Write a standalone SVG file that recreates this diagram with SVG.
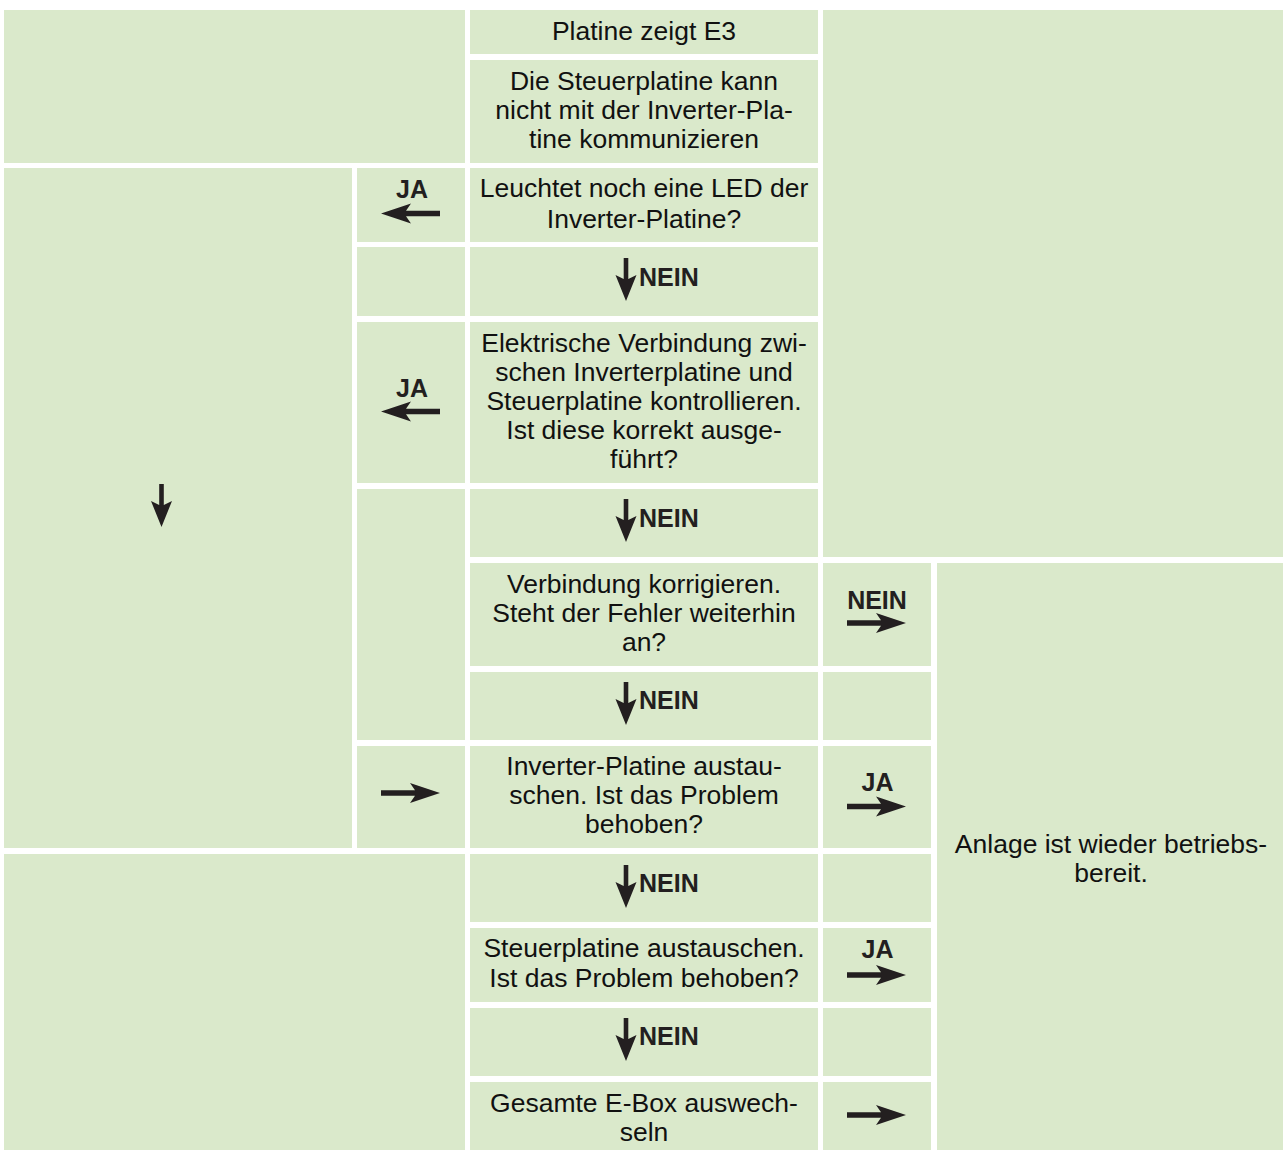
<svg xmlns="http://www.w3.org/2000/svg" xmlns:xlink="http://www.w3.org/1999/xlink" width="1283" height="1150" viewBox="0 0 1283 1150">
<style>
.c{fill:#DAE9CB}
.t{font-family:"Liberation Sans",Arial,sans-serif;font-size:26.5px;fill:#111;text-anchor:middle}
.l{font-family:"Liberation Sans",Arial,sans-serif;font-size:25px;font-weight:bold;fill:#231F20}
.m{text-anchor:middle}
.a{fill:#231F20}
</style>
<defs>
<path id="ad" d="M-2.3,0 H2.3 V21 L10.5,17 L0,43 L-10.5,17 L-2.3,21 Z"/>
<path id="ar" d="M0,-2.7 H34 L29,-10 L59,0 L29,10 L34,2.7 H0 Z"/>
<path id="al" d="M0,-2.7 H-34 L-29,-10 L-59,0 L-29,10 L-34,2.7 H0 Z"/>
</defs>
<rect width="1283" height="1150" fill="#fff"/>
<g id="n-topleft"><rect class="c" x="4" y="10" width="461" height="153"/></g>
<g id="n-start"><rect class="c" x="470" y="10" width="348" height="44"/><text class="t" x="644" y="40">Platine zeigt E3</text></g>
<g id="n-cause"><rect class="c" x="470" y="60" width="348" height="103"/><text class="t" x="644" y="90">Die Steuerplatine kann</text><text class="t" x="644" y="119">nicht mit der Inverter-Pla-</text><text class="t" x="644" y="148">tine kommunizieren</text></g>
<g id="n-topright"><rect class="c" x="823" y="10" width="460" height="547"/></g>
<g id="n-leftcol"><rect class="c" x="4" y="168" width="348" height="680"/></g>
<g id="n-b1"><rect class="c" x="357" y="168" width="108" height="74"/></g>
<g id="n-led"><rect class="c" x="470" y="168" width="348" height="74"/><text class="t" x="644" y="197">Leuchtet noch eine LED der</text><text class="t" x="644" y="228">Inverter-Platine?</text></g>
<g id="n-b2"><rect class="c" x="357" y="247" width="108" height="69"/></g>
<g id="n-c4"><rect class="c" x="470" y="247" width="348" height="69"/></g>
<g id="n-b3"><rect class="c" x="357" y="322" width="108" height="161"/></g>
<g id="n-elec"><rect class="c" x="470" y="322" width="348" height="161"/><text class="t" x="644" y="352">Elektrische Verbindung zwi-</text><text class="t" x="644" y="381">schen Inverterplatine und</text><text class="t" x="644" y="410">Steuerplatine kontrollieren.</text><text class="t" x="644" y="439">Ist diese korrekt ausge-</text><text class="t" x="644" y="468">führt?</text></g>
<g id="n-b4"><rect class="c" x="357" y="489" width="108" height="251"/></g>
<g id="n-c6"><rect class="c" x="470" y="489" width="348" height="68"/></g>
<g id="n-fix"><rect class="c" x="470" y="563" width="348" height="103"/><text class="t" x="644" y="593">Verbindung korrigieren.</text><text class="t" x="644" y="622">Steht der Fehler weiterhin</text><text class="t" x="644" y="651">an?</text></g>
<g id="n-d1"><rect class="c" x="823" y="563" width="108" height="103"/></g>
<g id="n-ok"><rect class="c" x="937" y="563" width="346" height="587"/><text class="t" x="1111" y="853">Anlage ist wieder betriebs-</text><text class="t" x="1111" y="882">bereit.</text></g>
<g id="n-c8"><rect class="c" x="470" y="672" width="348" height="68"/></g>
<g id="n-d2"><rect class="c" x="823" y="672" width="108" height="68"/></g>
<g id="n-b5"><rect class="c" x="357" y="746" width="108" height="102"/></g>
<g id="n-inv"><rect class="c" x="470" y="746" width="348" height="102"/><text class="t" x="644" y="775">Inverter-Platine austau-</text><text class="t" x="644" y="804">schen. Ist das Problem</text><text class="t" x="644" y="833">behoben?</text></g>
<g id="n-d3"><rect class="c" x="823" y="746" width="108" height="102"/></g>
<g id="n-bottomleft"><rect class="c" x="4" y="854" width="461" height="296"/></g>
<g id="n-c10"><rect class="c" x="470" y="854" width="348" height="68"/></g>
<g id="n-d4"><rect class="c" x="823" y="854" width="108" height="68"/></g>
<g id="n-ctrl"><rect class="c" x="470" y="928" width="348" height="74"/><text class="t" x="644" y="957">Steuerplatine austauschen.</text><text class="t" x="644" y="987">Ist das Problem behoben?</text></g>
<g id="n-d5"><rect class="c" x="823" y="928" width="108" height="74"/></g>
<g id="n-c12"><rect class="c" x="470" y="1008" width="348" height="68"/></g>
<g id="n-d6"><rect class="c" x="823" y="1008" width="108" height="68"/></g>
<g id="n-ebox"><rect class="c" x="470" y="1082" width="348" height="68"/><text class="t" x="644" y="1112">Gesamte E-Box auswech-</text><text class="t" x="644" y="1141">seln</text></g>
<g id="n-d7"><rect class="c" x="823" y="1082" width="108" height="68"/></g>
<g id="connectors">
<use href="#al" xlink:href="#al" class="a" x="440" y="213.5"/><text class="l m" x="412" y="198">JA</text>
<use href="#ad" xlink:href="#ad" class="a" x="626" y="258"/><text class="l" x="639" y="286">NEIN</text>
<use href="#al" xlink:href="#al" class="a" x="440" y="411.5"/><text class="l m" x="412" y="397">JA</text>
<use href="#ad" xlink:href="#ad" class="a" x="626" y="499"/><text class="l" x="639" y="527">NEIN</text>
<use href="#ad" xlink:href="#ad" class="a" x="161.5" y="484"/>
<use href="#ar" xlink:href="#ar" class="a" x="847" y="623"/><text class="l m" x="877" y="609">NEIN</text>
<use href="#ad" xlink:href="#ad" class="a" x="626" y="682"/><text class="l" x="639" y="709">NEIN</text>
<use href="#ar" xlink:href="#ar" class="a" x="381" y="793"/>
<use href="#ar" xlink:href="#ar" class="a" x="847" y="806.5"/><text class="l m" x="877.5" y="791">JA</text>
<use href="#ad" xlink:href="#ad" class="a" x="626" y="865"/><text class="l" x="639" y="892">NEIN</text>
<use href="#ar" xlink:href="#ar" class="a" x="847" y="975"/><text class="l m" x="877.5" y="958">JA</text>
<use href="#ad" xlink:href="#ad" class="a" x="626" y="1018"/><text class="l" x="639" y="1045">NEIN</text>
<use href="#ar" xlink:href="#ar" class="a" x="847" y="1115"/>
</g>
</svg>
